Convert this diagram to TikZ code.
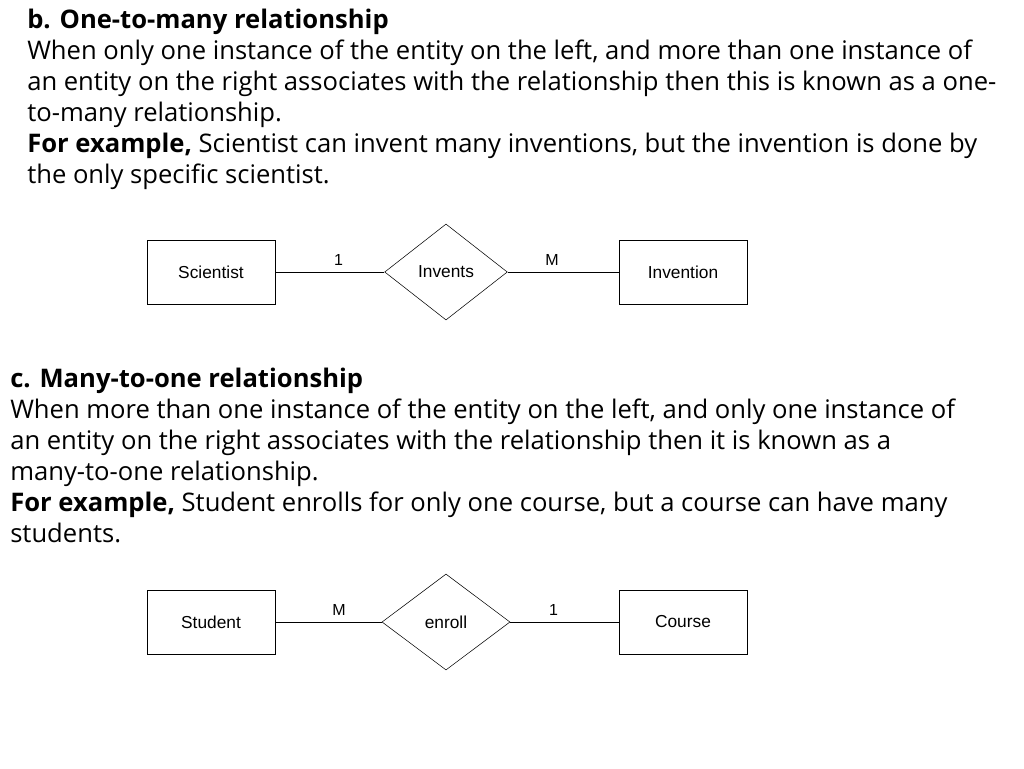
\documentclass[tikz,border=0pt]{standalone}
\usepackage{fontspec}
\setmainfont{Open Sans}
\newfontfamily\erfont{Liberation Sans}
\usetikzlibrary{shapes.geometric,positioning}
\tikzset{
  txt/.style={anchor=base west,inner sep=0pt,font=\fontsize{19.2}{22}\selectfont},
  entity/.style={draw,minimum width=96pt,minimum height=48pt,font=\erfont\fontsize{13}{15}\selectfont,inner sep=0pt},
  rel/.style={draw,diamond,minimum width=92pt,minimum height=72pt,font=\erfont\fontsize{13}{15}\selectfont,inner sep=0pt},
  card/.style={font=\erfont\fontsize{12}{14}\selectfont,inner sep=0pt}
}
\begin{document}
\begin{tikzpicture}[x=0.75pt,y=-0.75pt]
\useasboundingbox (0,0) rectangle (1024,768);

% part b
\node[txt] (b1) at (27,28) {\textbf{b. One-to-many relationship}};
\node[txt] (b2) at (27,59) {When only one instance of the entity on the left, and more than one instance of};
\node[txt] (b3) at (27,90) {an entity on the right associates with the relationship then this is known as a one-};
\node[txt] (b4) at (27,121) {to-many relationship.};
\node[txt] (b5) at (27,152) {\textbf{For example,} Scientist can invent many inventions, but the invention is done by};
\node[txt] (b6) at (27,183) {the only specific scientist.};

\node[entity] (scientist) at (211,272) {Scientist};
\node[rel] (invents) at (446,272) {Invents};
\node[entity] (invention) at (683,272) {Invention};
\draw (scientist) -- (invents) node[card,pos=0.58,above=5pt] {1};
\draw (invents) -- (invention) node[card,pos=0.4,above=5pt] {M};

% part c
\node[txt] (c1) at (10,387) {\textbf{c. Many-to-one relationship}};
\node[txt] (c2) at (10,418) {When more than one instance of the entity on the left, and only one instance of};
\node[txt] (c3) at (10,449) {an entity on the right associates with the relationship then it is known as a};
\node[txt] (c4) at (10,480) {many-to-one relationship.};
\node[txt] (c5) at (10,511) {\textbf{For example,} Student enrolls for only one course, but a course can have many};
\node[txt] (c6) at (10,542) {students.};

\node[entity] (student) at (211,622) {Student};
\node[rel,minimum width=96pt] (enroll) at (446,622) {enroll};
\node[entity] (course) at (683,622) {Course};
\draw (student) -- (enroll) node[card,pos=0.6,above=5pt] {M};
\draw (enroll) -- (course) node[card,pos=0.4,above=5pt] {1};
\end{tikzpicture}
\end{document}
